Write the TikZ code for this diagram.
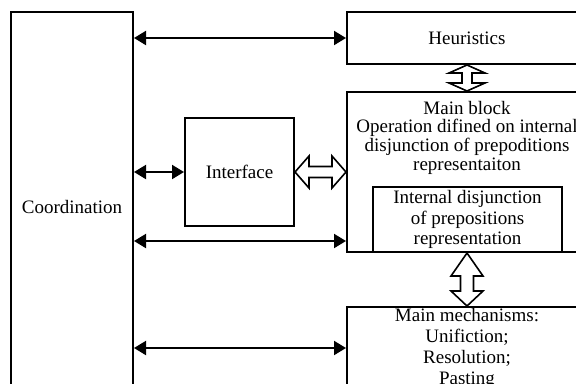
\documentclass[tikz,border=0pt]{standalone}
\usepackage{fontspec}
\setmainfont{Liberation Serif}
\usetikzlibrary{arrows.meta,calc,positioning}

\begin{document}
\begin{tikzpicture}[x=1bp,y=-1bp,line width=2bp,>={Triangle[length=12bp,width=14bp]},
  box/.style={draw,rectangle,inner sep=0pt,align=center,font=\fontsize{19bp}{20.5bp}\selectfont},
  txt/.style={inner sep=0pt,align=center,font=\fontsize{19bp}{18.7bp}\selectfont},
  hollow/.style={draw,fill=white,line width=1.6bp,line join=miter}]
  \useasboundingbox (0,0) rectangle (576,383);
  \clip (0,0) rectangle (576,383);
  % Bloecke
  \node[box,minimum width=122bp,minimum height=390bp] (coord) at (72,207) {Coordination};
  \node[box,minimum width=240bp,minimum height=52bp] (heur) at (467,38) {Heuristics};
  \node[box,minimum width=240bp,minimum height=160bp] (main) at (467,172) {};
  \node[txt,below=9bp of main.north] (maintxt) {Main block\\Operation difined on internal\\disjunction of prepoditions\\representaiton};
  \node[box,minimum width=189bp,minimum height=65bp] (intern) at (467.5,219.5) {Internal disjunction\\of prepositions\\representation};
  \node[box,minimum width=240bp,minimum height=82bp,font=\fontsize{19bp}{21bp}\selectfont] (mech) at (467,348) {Main mechanisms:\\Unifiction;\\Resolution;\\Pasting};
  \node[box,minimum width=109bp,minimum height=108bp] (iface) at (239.5,172) {Interface};
  \coordinate (lower) at ($(main.south west)+(0,-12)$);
  % Pfeile zur Koordination
  \draw[<->] (coord.east |- heur.west) -- (heur.west);
  \draw[<->] (coord.east |- iface.west) -- (iface.west);
  \draw[<->] (coord.east |- lower) -- (lower);
  \draw[<->] (coord.east |- mech.west) -- (mech.west);
  % Doppelpfeile
  \draw[hollow] (iface.east) -- ++(14,-16) -- ++(0,10.5) -- ($(main.west)+(-14,-5.5)$) -- ++(0,-10.5) -- (main.west)
    -- ++(-14,16) -- ++(0,-10.5) -- ($(iface.east)+(14,5.5)$) -- ++(0,10.5) -- cycle;
  \draw[hollow] (heur.south) -- ++(-18,8) -- ++(13,0) -- ($(main.north)+(-5,-8)$) -- ++(-13,0) -- (main.north)
    -- ++(18,-8) -- ++(-13,0) -- ($(heur.south)+(5,8)$) -- ++(13,0) -- cycle;
  \draw[hollow] (main.south) -- ++(-16,23) -- ++(9.5,0) -- ($(mech.north)+(-6.5,-15)$) -- ++(-9.5,0) -- (mech.north)
    -- ++(16,-15) -- ++(-9.5,0) -- ($(main.south)+(6.5,23)$) -- ++(9.5,0) -- cycle;
\end{tikzpicture}
\end{document}
